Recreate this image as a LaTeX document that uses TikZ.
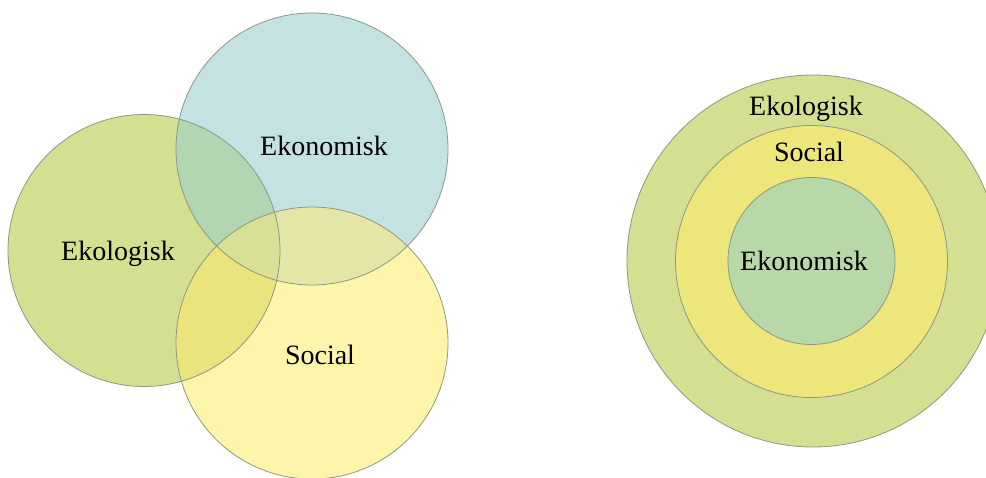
\documentclass[tikz,border=0pt]{standalone}
\usepackage{fontspec}
\setmainfont{Liberation Serif}
\begin{document}
\begin{tikzpicture}[x=1pt,y=-1pt]
  % palette
  \definecolor{econblue}{HTML}{C5E2E3}
  \definecolor{ekolgreen}{HTML}{D4DF92}
  \definecolor{socyellow}{HTML}{FEF5AB}
  \definecolor{ekolekon}{HTML}{B2D6B2}
  \definecolor{ekolsoc}{HTML}{EAE47C}
  \definecolor{ekonsoc}{HTML}{E4E6A8}
  \definecolor{allthree}{HTML}{D7E094}
  \definecolor{ringyellow}{HTML}{ECE67B}
  \definecolor{coregreen}{HTML}{B8D8A8}
  \definecolor{ringline}{HTML}{8C9884}
  \tikzset{
    ring/.style={draw=ringline, line width=0.8pt},
    lbl/.style={font=\fontsize{28}{30}\selectfont, text=black, inner sep=0pt, anchor=base}
  }
  \useasboundingbox (0,0) rectangle (986,477);
  \fill[white] (0,0) rectangle (986,477);

  % three overlapping pillars
  \def\ekonC{(312,149) circle (136pt)}
  \def\ekolC{(144,250.5) circle (136pt)}
  \def\socC{(312,343) circle (136pt)}

  \fill[ekolgreen] \ekolC;
  \fill[econblue] \ekonC;
  \fill[socyellow] \socC;
  \begin{scope}\clip \ekolC; \fill[ekolekon] \ekonC; \end{scope}
  \begin{scope}\clip \ekolC; \fill[ekolsoc] \socC; \end{scope}
  \begin{scope}\clip \ekonC; \fill[ekonsoc] \socC; \end{scope}
  \begin{scope}\clip \ekolC; \clip \ekonC; \fill[allthree] \socC; \end{scope}
  \draw[ring] \ekolC;
  \draw[ring] \ekonC;
  \draw[ring] \socC;

  \node[lbl] (vEkon) at (324,155) {Ekonomisk};
  \node[lbl] (vEkol) at (118,260) {Ekologisk};
  \node[lbl] (vSoc) at (320,364) {Social};

  % nested pillars
  \fill[ekolgreen, ring] (813,261) circle (186pt);
  \fill[ringyellow, ring] (811.5,261.5) circle (136pt);
  \fill[coregreen, ring] (811.5,261) circle (83.5pt);

  \node[lbl] (nEkol) at (806,115) {Ekologisk};
  \node[lbl] (nSoc) at (809,161) {Social};
  \node[lbl] (nEkon) at (804,270) {Ekonomisk};
\end{tikzpicture}
\end{document}
